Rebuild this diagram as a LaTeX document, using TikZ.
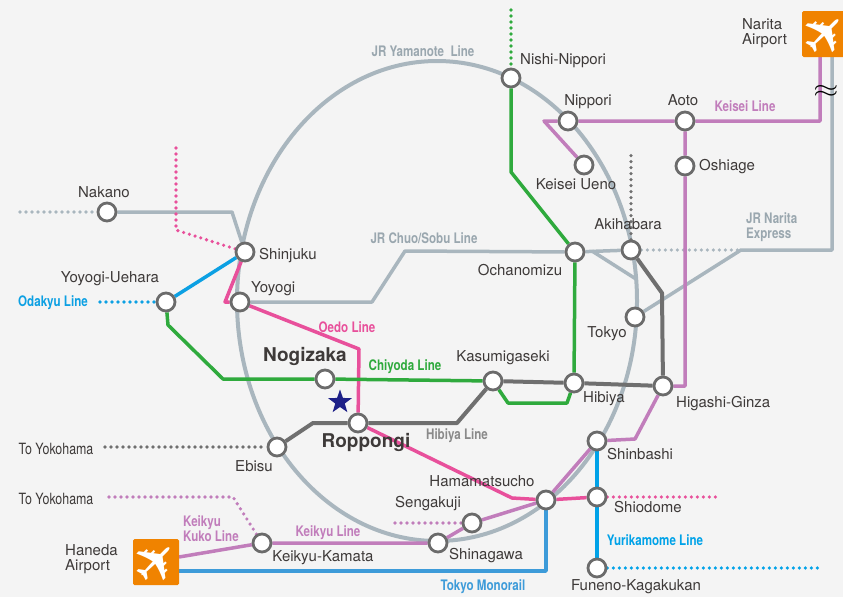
\documentclass[tikz,border=0pt]{standalone}
\usepackage{fontspec}
\setmainfont{TeX Gyre Heros}
\newfontfamily\condfont[FakeStretch=0.8]{TeX Gyre Heros}
\newfontfamily\iconfont{DejaVu Sans}
\usetikzlibrary{shapes.geometric}
\pgfdeclarelayer{back}
\pgfsetlayers{back,main}
\definecolor{paper}{HTML}{F4F4F4}
\definecolor{ink}{HTML}{3E3A39}
\definecolor{jrgrey}{HTML}{A9B6BE}
\definecolor{jrtext}{HTML}{9AA7AF}
\definecolor{hibiyagrey}{HTML}{6F6F6F}
\definecolor{hibiyatext}{HTML}{8A8A8A}
\definecolor{ring}{HTML}{6B6B6B}
\definecolor{chiyoda}{HTML}{2FAA3D}
\definecolor{oedo}{HTML}{E8509B}
\definecolor{keisei}{HTML}{C17DBB}
\definecolor{odakyu}{HTML}{0CA0E3}
\definecolor{monorail}{HTML}{3D9BD9}
\definecolor{yurikamome}{HTML}{00A2E8}
\definecolor{airport}{HTML}{F08300}
\definecolor{starblue}{HTML}{1D2088}
\begin{document}
\begin{tikzpicture}[x=1pt, y=-1pt,
		station/.style = {circle, draw=ring, fill=white, line width=2.8pt, minimum size=18pt, inner sep=0pt},
		lbl/.style = {font=\fontsize{15}{15}\selectfont, text=ink, inner sep=0pt, text height=1.5ex, text depth=.25ex},
		lbltwo/.style = {font=\fontsize{15}{15}\selectfont, text=ink, inner sep=0pt, align=left},
		big/.style = {font=\fontsize{19}{19}\selectfont\bfseries, text=ink, inner sep=0pt, text height=1.5ex, text depth=.25ex},
		linelbl/.style = {font=\condfont\bfseries\fontsize{14.5}{15}\selectfont, inner sep=0pt, align=left},
		track/.style = {line width=3.5pt, line join=round},
		dots/.style = {line width=3.6pt, line cap=round, dash pattern=on 0pt off 6pt},
		airportbox/.style = {fill=airport, minimum size=46pt, inner sep=0pt, rounded corners=1.5pt},
		plane/.style = {text=white, font=\iconfont\fontsize{55}{55}\selectfont, inner sep=0pt, rotate=45}]
	\useasboundingbox (0,0) rectangle (843,597);

	\node[station] (nishinippori) at (511,78) {};
	\node[station] (nippori) at (568,121) {};
	\node[station] (aoto) at (685,121) {};
	\node[station] (keiseiueno) at (584,165) {};
	\node[station] (oshiage) at (685,166) {};
	\node[station] (akihabara) at (631,250) {};
	\node[station] (ochanomizu) at (575,252) {};
	\node[station] (tokyo) at (635,317) {};
	\node[station] (nakano) at (107,212) {};
	\node[station] (shinjuku) at (245,252) {};
	\node[station] (yoyogi) at (240,302) {};
	\node[station] (yoyogiuehara) at (166,302) {};
	\node[station] (nogizaka) at (325,379) {};
	\node[station] (kasumigaseki) at (493,381) {};
	\node[station] (hibiya) at (574,383) {};
	\node[station] (higashiginza) at (663,386) {};
	\node[station] (roppongi) at (358,423) {};
	\node[station] (ebisu) at (277,447) {};
	\node[station] (shinbashi) at (597,441) {};
	\node[station] (shiodome) at (597,497) {};
	\node[station] (hamamatsucho) at (546,500) {};
	\node[station] (sengakuji) at (472,523) {};
	\node[station] (shinagawa) at (438,543) {};
	\node[station] (keikyukamata) at (262,543) {};
	\node[station] (funeno) at (597,568) {};
	\node[star, star points=5, star point ratio=2.5, fill=starblue, inner sep=0pt, minimum size=25pt] (here) at (340,402) {};

	\node[airportbox] (narita) at (825,34) {};
	\node[plane] (narita-plane) at (narita) {✈};
	\node[airportbox] (haneda) at (156,562) {};
	\node[plane] (haneda-plane) at (haneda) {✈};
	\node[font=\fontsize{26}{26}\selectfont, xscale=1.3, inner sep=0pt] (wave) at (826,91) {$\approx$};

	\coordinate (nakano-w) at (20,212);
	\coordinate (uehara-w) at (100,302);
	\coordinate (oedo-n) at (176,148);
	\coordinate (chiyoda-n) at (511,10);
	\coordinate (hibiya-n) at (631,153);
	\coordinate (ebisu-w) at (105,447);
	\coordinate (kamata-w) at (105,497);
	\coordinate (sengakuji-w) at (395,523);
	\coordinate (shiodome-e) at (720,497);
	\coordinate (funeno-e) at (820,568);
	\coordinate (nex-bend) at (741,250);
	\coordinate (nex-n) at (832,57);
	\coordinate (keisei-n) at (820,57);
	\coordinate (haneda-k) at (179,557);
	\coordinate (haneda-m) at (179,571);
	\coordinate (chuo-split) at (592,251);
	\coordinate (chuo-join) at (636,279);

	\begin{pgfonlayer}{back}
		\fill[paper] (0,0) rectangle (843,597);
		\draw[jrgrey, line width=4pt] (437,301) ellipse [x radius=200pt, y radius=240pt];

		\draw[jrgrey, dots] (nakano-w) -- (nakano);
		\draw[jrgrey, track] (nakano) -- (232,212) -- (shinjuku);
		\draw[jrgrey, track] (yoyogi) -- (372,302) -- (405,251) -- (ochanomizu) -- (akihabara);
		\draw[jrgrey, track] (chuo-split) -- (chuo-join);
		\draw[jrgrey, dots] (akihabara) -- (nex-bend);
		\draw[jrgrey, track] (tokyo) -- (nex-bend) -| (nex-n);

		\draw[keisei, track] (keisei-n) |- (aoto) -- (nippori) -- (544,121) -- (keiseiueno);
		\draw[keisei, track] (aoto) -- (oshiage) -- (685,386) -- (higashiginza) -- (635,439) -- (shinbashi)
			-- (hamamatsucho) -- (sengakuji) -- (shinagawa) -- (keikyukamata) -- (haneda-k);
		\draw[keisei, dots] (keikyukamata) -- (233,497) -- (kamata-w);
		\draw[keisei, dots] (sengakuji-w) -- (sengakuji);

		\draw[monorail, track] (haneda-m) -| (hamamatsucho);
		\draw[yurikamome, track] (shinbashi) -- (shiodome) -- (funeno);
		\draw[yurikamome, dots] (funeno) -- (funeno-e);

		\draw[oedo, dots] (oedo-n) -- (176,230) -- (shinjuku);
		\draw[oedo, track] (shinjuku) -- (225,302) -- (yoyogi) -- (359,349) -- (roppongi) -- (512,498)
			-- (hamamatsucho) -- (shiodome);
		\draw[oedo, dots] (shiodome) -- (shiodome-e);

		\draw[odakyu, dots] (uehara-w) -- (yoyogiuehara);
		\draw[odakyu, track] (yoyogiuehara) -- (shinjuku);

		\draw[chiyoda, dots] (chiyoda-n) -- (nishinippori);
		\draw[chiyoda, track] (nishinippori) -- (511,172) -- (ochanomizu) -- (hibiya) -- (567,403) -- (508,403)
			-- (kasumigaseki) -- (nogizaka) -- (223,379) -- (168,325) -- (yoyogiuehara);

		\draw[hibiyagrey, dots] (ebisu-w) -- (ebisu);
		\draw[hibiyagrey, track, line width=4pt] (ebisu) -- (313,423) -- (roppongi) -- (457,423) -- (kasumigaseki)
			-- (hibiya) -- (higashiginza) -- (662,293) -- (akihabara);
		\draw[hibiyagrey, dots] (akihabara) -- (hibiya-n);
	\end{pgfonlayer}

	\node[lbl, anchor=west] (t-nishinippori) at (520,61) {Nishi-Nippori};
	\node[lbl] (t-nippori) at (588,102) {Nippori};
	\node[lbl] (t-aoto) at (683,102) {Aoto};
	\node[lbl] (t-keiseiueno) at (576,186) {Keisei Ueno};
	\node[lbl, anchor=west] (t-oshiage) at (699,167) {Oshiage};
	\node[lbl] (t-akihabara) at (628,226) {Akihabara};
	\node[lbl] (t-ochanomizu) at (520,272) {Ochanomizu};
	\node[lbl] (t-tokyo) at (607,334) {Tokyo};
	\node[lbl] (t-nakano) at (104,194) {Nakano};
	\node[lbl, anchor=west] (t-shinjuku) at (259,256) {Shinjuku};
	\node[lbl] (t-yoyogiuehara) at (110,279) {Yoyogi-Uehara};
	\node[lbl, anchor=west] (t-yoyogi) at (251,289) {Yoyogi};
	\node[lbl] (t-kasumigaseki) at (503,358) {Kasumigaseki};
	\node[lbl, anchor=west] (t-hibiya) at (583,399) {Hibiya};
	\node[lbl, anchor=west] (t-higashiginza) at (676,404) {Higashi-Ginza};
	\node[lbl] (t-ebisu) at (254,468) {Ebisu};
	\node[lbl, anchor=west] (t-shinbashi) at (607,456) {Shinbashi};
	\node[lbl, anchor=west] (t-shiodome) at (614,509) {Shiodome};
	\node[lbl] (t-hamamatsucho) at (482,483) {Hamamatsucho};
	\node[lbl] (t-sengakuji) at (428,504) {Sengakuji};
	\node[lbl] (t-shinagawa) at (486,556) {Shinagawa};
	\node[lbl] (t-keikyukamata) at (323,558) {Keikyu-Kamata};
	\node[lbl] (t-funeno) at (636,587) {Funeno-Kagakukan};
	\node[big] (t-nogizaka) at (305,358) {Nogizaka};
	\node[big] (t-roppongi) at (366,444) {Roppongi};
	\node[lbltwo, anchor=west] (t-narita) at (742,33) {Narita\\Airport};
	\node[lbltwo, anchor=west] (t-haneda) at (65,559) {Haneda\\Airport};

	\node[linelbl, text=jrtext] (l-yamanote) at (423,51) {JR Yamanote\ \ Line};
	\node[linelbl, text=jrtext] (l-chuo) at (424,238) {JR Chuo/Sobu Line};
	\node[linelbl, text=jrtext, anchor=west] (l-nex) at (746,227) {JR Narita\\Express};
	\node[linelbl, text=keisei] (l-keisei) at (745,106) {Keisei Line};
	\node[linelbl, text=odakyu] (l-odakyu) at (53,303) {Odakyu Line};
	\node[linelbl, text=oedo] (l-oedo) at (347,327) {Oedo Line};
	\node[linelbl, text=chiyoda] (l-chiyoda) at (405,367) {Chiyoda Line};
	\node[linelbl, text=hibiyatext] (l-hibiya) at (457,436) {Hibiya Line};
	\node[linelbl, text=keisei, anchor=west] (l-kuko) at (183,529) {Keikyu\\Kuko Line};
	\node[linelbl, text=keisei] (l-keikyu) at (328,533) {Keikyu Line};
	\node[linelbl, text=monorail] (l-monorail) at (483,587) {Tokyo Monorail};
	\node[linelbl, text=yurikamome] (l-yurikamome) at (655,540) {Yurikamome Line};
	\node[font=\condfont\fontsize{15.5}{15.5}\selectfont, text=ink, inner sep=0pt] (t-yokohama1) at (56,449) {To Yokohama};
	\node[font=\condfont\fontsize{15.5}{15.5}\selectfont, text=ink, inner sep=0pt] (t-yokohama2) at (56,499) {To Yokohama};
\end{tikzpicture}
\end{document}
